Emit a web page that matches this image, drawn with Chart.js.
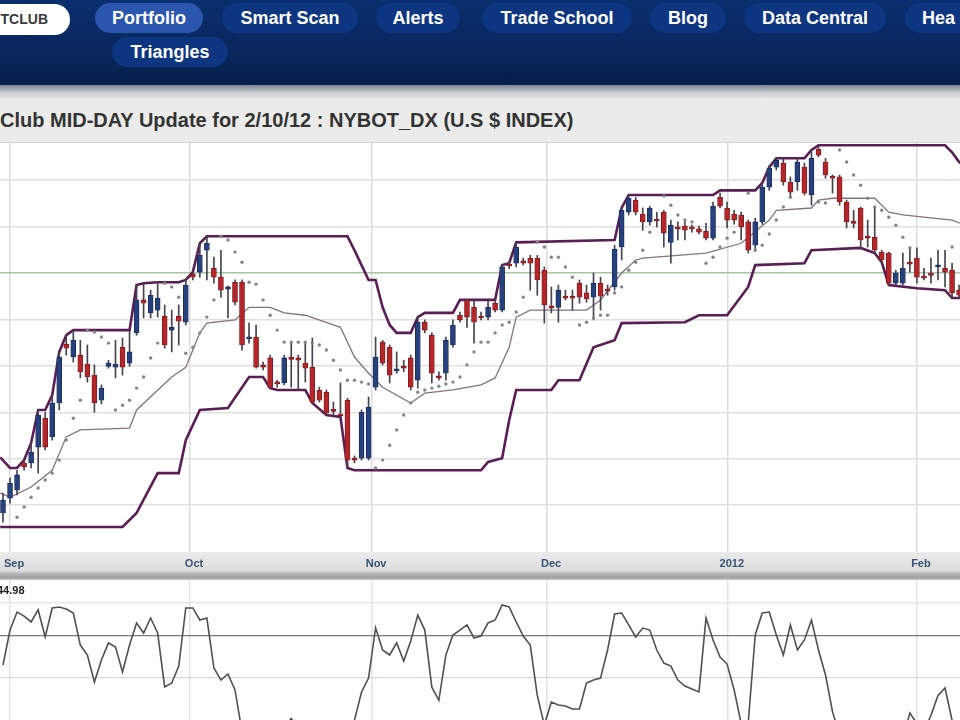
<!DOCTYPE html>
<html>
<head>
<meta charset="utf-8">
<title>NYBOT_DX MID-DAY Update</title>
<script src="https://cdn.jsdelivr.net/npm/chart.js@4.4.0/dist/chart.umd.min.js"></script>
<style>
html, body { margin:0; padding:0; width:960px; height:720px; overflow:hidden; background:#fff; font-family:"Liberation Sans", Arial, sans-serif; }
#nav { position:absolute; left:0; top:0; width:960px; height:85px; background:linear-gradient(#0b2e6e, #072659 70%, #041d4c); }
.pill { position:absolute; top:3px; height:30px; line-height:30px; border-radius:15px; background:#0e3680; color:#fff; font-weight:bold; font-size:18px; text-align:center; white-space:nowrap; overflow:hidden; }
.pill.on { background:#2b56ad; }
#logo { position:absolute; left:-30px; top:4px; width:100px; height:31px; border-radius:16px; background:#fff; color:#3a3a3a; font-weight:bold; font-size:14px; line-height:31px; text-align:right; padding-right:22px; box-sizing:border-box; }
#shade { position:absolute; left:0; top:85px; width:960px; height:13px; background:linear-gradient(#7d8596, #c9cbcf 60%, #e3e3e3); }
#title { position:absolute; left:0; top:98px; width:960px; height:44px; line-height:44px; background:#ebebeb; border-bottom:1px solid #d2d2d2; color:#333; font-weight:bold; font-size:20px; white-space:nowrap; }
#band { position:absolute; left:0; top:552px; width:960px; height:28px; background:linear-gradient(#ebebeb, #dcdcdc 68%, #b9b9b9 76%, #9f9f9f 92%, #cfcfcf); }
#main { position:absolute; left:0; top:143px; }
#osc { position:absolute; left:0; top:580px; }
#val { position:absolute; left:-3px; top:584px; font-weight:bold; font-size:11px; color:#222; }
</style>
</head>
<body>
<div id="nav">
  <div id="logo">TCLUB</div>
  <div class="pill on" style="left:95px;width:108px;">Portfolio</div>
  <div class="pill" style="left:222px;width:136px;">Smart Scan</div>
  <div class="pill" style="left:376px;width:84px;">Alerts</div>
  <div class="pill" style="left:482px;width:150px;">Trade School</div>
  <div class="pill" style="left:650px;width:76px;">Blog</div>
  <div class="pill" style="left:744px;width:142px;">Data Central</div>
  <div class="pill" style="left:905px;width:80px;text-align:left;padding-left:17px;box-sizing:border-box;">Hea</div>
  <div class="pill" style="left:112px;top:37px;width:116px;">Triangles</div>
</div>
<div id="shade"></div>
<div id="title">Club MID-DAY Update for 2/10/12 : NYBOT_DX (U.S $ INDEX)</div>
<div id="band"></div>
<canvas id="main" width="960" height="437"></canvas>
<canvas id="osc" width="960" height="180"></canvas>
<div id="val">44.98</div>
<script>
// month ticks (bar index) and labels
const monthTicks = [1.0, 26.6, 52.5, 77.4, 103.1, 130.0];
const monthLabels = ['Sep', 'Oct', 'Nov', 'Dec', '2012', 'Feb'];
const priceGrid = [74, 75, 76, 77, 78, 79, 80, 81];
const oscGrid = [55, 80, 100];

// daily candles, one per bar
const opens = [73.83,74.15,74.32,74.91,74.91,75.25,75.87,75.47,76.20,77.47,
77.19,77.23,77.04,76.80,76.26,76.99,76.97,77.40,77.06,77.71,
78.42,78.14,78.20,78.07,77.77,78.07,77.94,78.98,79.02,79.49,
79.10,78.91,78.65,78.80,78.80,77.58,77.62,77.02,77.17,76.65,
76.63,77.19,77.17,77.06,76.97,76.48,76.43,76.07,75.96,76.26,
75.01,75.01,75.01,76.54,77.51,77.40,76.89,76.99,77.17,76.69,
77.94,77.66,76.78,76.84,77.45,78.09,78.42,78.26,78.07,78.05,
78.35,78.20,79.19,79.21,79.26,79.32,79.32,79.06,78.29,78.26,
78.50,78.50,78.78,78.57,78.48,78.78,78.65,78.70,79.56,80.31,
80.57,80.27,80.10,80.16,80.31,79.66,79.99,80.01,79.99,79.95,
79.90,79.75,80.63,80.40,80.27,80.25,80.10,79.60,80.10,80.85,
81.28,81.37,80.96,80.96,81.28,80.68,81.67,81.39,81.09,81.07,
80.53,80.12,80.40,79.79,79.77,79.45,79.43,78.78,78.78,79.23,
79.32,78.93,79.00,79.13,79.10,79.06,78.63];
const highs = [74.26,74.58,74.75,74.97,75.34,76.05,76.00,76.37,77.30,77.66,
77.77,77.55,77.45,77.02,76.59,77.12,77.55,77.60,77.77,78.74,
78.78,78.63,78.80,78.31,78.20,78.31,78.85,79.02,79.64,79.79,
79.34,79.49,78.72,78.85,78.85,77.92,77.88,77.08,77.23,76.69,
77.23,77.51,77.23,77.49,77.60,76.54,76.48,76.22,76.63,76.30,
75.06,76.05,76.33,77.62,77.55,77.45,77.30,77.12,77.23,78.05,
77.99,77.71,76.87,77.62,77.99,78.16,78.42,78.42,78.16,78.42,
78.42,79.17,79.23,79.66,79.32,79.38,79.38,79.13,78.70,78.74,
78.63,78.63,78.85,78.74,79.00,78.91,78.74,79.60,80.42,80.68,
80.63,80.40,80.44,80.31,80.35,80.14,80.10,80.10,80.03,80.01,
80.07,80.53,80.72,80.53,80.35,80.31,80.14,80.18,80.94,81.32,
81.47,81.47,81.07,81.47,81.37,81.65,81.73,81.47,81.11,81.11,
80.57,80.35,80.42,80.14,80.42,79.49,79.45,79.06,79.43,79.56,
79.54,79.10,79.32,79.49,79.49,79.21,78.74];
const lows = [73.63,74.04,74.22,74.75,74.80,74.69,75.19,75.40,76.05,77.23,
77.08,76.74,76.65,76.00,76.18,76.95,76.74,76.80,76.99,77.66,
78.03,78.03,78.05,77.38,77.30,77.45,77.88,78.85,78.91,78.85,
78.78,78.48,78.03,78.31,77.34,77.49,76.95,76.91,76.52,76.54,
76.59,76.54,76.48,76.65,76.20,76.22,75.94,75.94,75.90,74.80,
74.91,74.97,74.97,76.48,77.02,76.63,76.84,76.87,76.48,76.52,
77.71,76.63,76.69,76.69,77.40,77.94,77.83,77.49,77.99,77.99,
78.16,78.16,79.10,79.13,79.17,78.63,78.52,77.92,78.14,77.94,
78.42,78.20,78.35,78.37,77.99,78.20,78.52,78.63,79.28,80.25,
80.25,79.92,80.03,79.99,79.56,79.21,79.71,79.71,79.88,79.84,
79.71,79.71,80.40,79.97,80.05,79.71,79.43,79.49,80.05,80.78,
81.22,80.89,80.63,80.78,80.68,80.46,81.50,81.04,80.72,80.46,
79.97,79.97,79.54,79.56,79.43,79.23,78.74,78.74,78.74,79.02,
78.78,78.85,78.78,78.85,78.70,78.46,78.46];
const closes = [74.11,74.47,74.65,74.82,75.14,75.94,75.25,76.20,77.19,77.38,
77.55,76.87,76.76,76.20,76.52,77.06,77.04,76.97,77.30,78.42,
78.35,78.52,78.46,77.45,77.83,77.96,78.74,78.91,79.38,79.64,
78.91,78.63,78.70,78.37,77.45,77.62,76.97,76.97,76.54,76.61,
77.17,77.14,77.12,76.95,76.22,76.26,75.98,76.02,75.92,74.97,
74.97,76.00,76.11,77.19,77.06,76.80,76.93,76.95,76.54,77.94,
77.77,76.84,76.74,77.55,77.88,77.99,78.05,77.94,78.03,78.26,
78.20,79.13,79.15,79.56,79.21,79.21,78.85,78.31,78.24,78.63,
78.46,78.46,78.48,78.44,78.78,78.50,78.61,79.51,80.35,80.61,
80.31,80.10,80.40,80.12,79.86,80.03,79.95,79.92,79.95,79.88,
79.75,80.44,80.44,80.14,80.14,79.99,79.49,80.10,80.85,81.26,
81.43,80.96,80.74,81.39,80.72,81.47,81.54,81.11,81.04,80.53,
80.10,80.07,79.71,79.75,79.49,79.28,78.78,79.00,79.10,79.19,
78.91,78.89,78.95,79.17,79.02,78.57,78.52];

// parabolic SAR dots (null = no dot visible)
const sar = [null,null,73.74,73.96,74.17,74.37,74.54,74.69,74.97,75.40,
75.87,76.26,77.77,77.73,77.62,77.49,76.05,76.15,76.26,76.52,
76.76,77.17,77.49,78.78,78.70,78.48,77.27,77.40,77.71,78.05,
78.42,79.79,79.71,79.45,79.23,78.80,78.76,78.42,78.09,77.77,
77.51,77.51,77.51,77.51,77.49,77.45,77.34,77.12,76.91,76.69,
76.69,76.65,76.61,74.80,74.97,75.29,75.62,75.94,76.20,76.43,
76.48,76.52,76.56,76.61,76.65,76.76,77.02,77.30,77.51,77.51,
77.71,77.88,77.94,78.16,78.48,null,79.66,79.56,79.34,79.34,
79.13,78.91,77.88,77.94,78.03,78.09,78.09,78.57,78.70,79.06,
79.23,79.49,79.88,null,80.66,80.46,80.25,80.14,80.10,null,
79.21,79.34,79.56,79.75,79.88,null,80.72,79.49,79.60,79.84,
80.14,80.42,80.63,null,null,null,80.53,80.51,null,81.65,
81.39,81.11,80.89,80.61,80.42,80.35,80.20,80.03,79.77,79.54,
null,null,null,null,null,79.56,null];

// channel lines, read at their corners (bar index, price)
const upperIdx = [-0.4,1,2,3,4,5,6,7,8,9,10,18,19,20,22,25,26,27,28,29,49,50,51,52,53,54,55,56,58,59,60,64,65,70,71,72,73,87,88,89,101,102,107,108,109,110,114,115,116,134,135,136,136.2];
const upperVal = [75.03,74.80,74.80,74.97,75.34,76.05,76.05,76.37,77.30,77.66,77.77,77.77,78.74,78.78,78.80,78.80,78.85,79.02,79.64,79.79,79.79,79.49,79.17,78.85,78.85,78.26,77.88,77.71,77.71,78.05,78.14,78.14,78.42,78.42,79.17,79.21,79.66,79.71,80.40,80.68,80.68,80.78,80.78,80.94,81.28,81.47,81.47,81.65,81.75,81.75,81.60,81.39,81.37];
const lowerIdx = [-0.4,17,19,22,25,26,28,32,35,37,38,39,43,44,46,48,49,50,68,69,71,72,73,78,79,82,84,87,88,97,99,103,106,107,114,115,122,124,125,126,130,134,135,136.2];
const lowerVal = [73.53,73.53,73.83,74.69,74.69,75.40,76.05,76.09,76.76,76.76,76.52,76.48,76.48,76.20,75.94,75.90,74.80,74.75,74.75,74.93,75.01,75.83,76.48,76.48,76.69,76.69,77.40,77.55,77.92,77.94,78.09,78.09,78.70,79.17,79.21,79.49,79.54,79.43,79.23,78.74,78.67,78.63,78.46,78.46];
const midIdx = [-0.4,1,4,7,9,11,18,19,24,26,28,29,33,35,38,40,43,48,50,52,54,58,60,64,68,70,72,73,75,83,85,88,90,91,100,105,109,110,115,116,118,124,126,128,135,136.2];
const midVal = [74.26,74.17,74.39,74.75,75.47,75.62,75.66,76.05,76.76,76.97,77.71,77.92,77.99,78.26,78.26,78.14,78.09,77.83,77.19,76.84,76.54,76.20,76.41,76.48,76.59,76.74,77.40,78.05,78.20,78.20,78.42,79.00,79.28,79.32,79.43,79.64,80.14,80.35,80.40,80.57,80.61,80.61,80.31,80.25,80.14,80.07];

// lower oscillator, one value per bar
const osc = [62.4,83.6,94.5,92.1,88.5,95.8,79.4,97.0,97.6,96.4,
93.9,74.5,68.5,52.1,65.5,75.8,73.3,58.2,74.5,87.9,
81.8,90.9,81.8,49.1,51.5,61.8,97.0,97.0,89.7,90.9,
60.6,53.3,57.0,47.3,22,15,10,8,12,18,
25,30,24,16,10,8,6,10,14,8,
29,46.1,54.5,85,71.5,68.5,75.8,64.8,77,92.7,
83.6,49,41,68.5,80.6,83.6,86.7,78.8,80,87.9,
89.7,98.8,97.6,88.5,80,74.5,44,26,40,38.2,
37.6,35.8,35.8,51.5,53.3,54.5,71.5,93.3,93.9,86.7,
79.4,84.8,83.6,71.5,63.6,61.8,53.3,49.7,47.9,46.1,
90.9,77.6,67.3,63.0,47.3,27,27,80.6,93.9,94.5,
80.6,68.5,86.7,71.5,77.6,89.7,71.5,56.4,34,20,
12,8,6,9,14,10,7,12,18,33.3,
27,22,32,44,48.5,29,22];

const xMin = -0.427, xMax = 136.13;
const yMin = 72.99, yMax = 81.80;
const oscMin = 4.85, oscMax = 113.94;

const bars = opens.map((v, i) => i);
const up = bars.map(i => closes[i] >= opens[i]);
const bodyData = bars.map(i => ({ x: i, y: [opens[i], closes[i]] }));
const wickData = bars.map(i => ({ x: i, y: [lows[i], highs[i]] }));
const sarData = bars.filter(i => sar[i] !== null).map(i => ({ x: i, y: sar[i] }));
const pts = (xs, ys) => xs.map((x, k) => ({ x: x, y: ys[k] }));

const monthAxis = {
  type: 'linear', min: xMin, max: xMax, offset: false,
  border: { display: false },
  afterBuildTicks: s => { s.ticks = monthTicks.map(v => ({ value: v })); }
};

new Chart(document.getElementById('main'), {
  type: 'bar',
  data: {
    datasets: [
      { type: 'line', label: 'SAR', data: sarData, showLine: false, pointRadius: 1.7,
        pointBackgroundColor: '#858585', pointBorderWidth: 0, order: 0 },
      { label: 'body', data: bodyData, grouped: false, barThickness: 5, minBarLength: 2,
        backgroundColor: up.map(u => u ? '#27417d' : '#b3272b'),
        borderColor: up.map(u => u ? '#172a57' : '#7d1518'),
        borderWidth: 0.8, borderSkipped: false, order: 1 },
      { label: 'wick', data: wickData, grouped: false, barThickness: 1,
        backgroundColor: '#44444f', order: 2 },
      { type: 'line', label: 'mid', data: pts(midIdx, midVal), borderColor: '#85737f',
        borderWidth: 1.3, pointRadius: 0, order: 3 },
      { type: 'line', label: 'upper', data: pts(upperIdx, upperVal), borderColor: '#5a1e54',
        borderWidth: 2.6, pointRadius: 0, order: 4 },
      { type: 'line', label: 'lower', data: pts(lowerIdx, lowerVal), borderColor: '#5a1e54',
        borderWidth: 2.6, pointRadius: 0, order: 4 }
    ]
  },
  options: {
    responsive: false, animation: false, events: [],
    layout: { padding: 0, autoPadding: false },
    plugins: { legend: { display: false }, tooltip: { enabled: false } },
    scales: {
      x: Object.assign({}, monthAxis, {
        grid: { color: '#dcdcdc', lineWidth: 1.5, drawTicks: false, offset: false },
        ticks: { autoSkip: false, maxRotation: 0, padding: 5, labelOffset: 4, color: '#3a5272',
          font: { family: 'Liberation Sans', size: 11, weight: 'bold' },
          callback: (v, k) => monthLabels[k] },
        afterFit: s => { s.height = 28; s.paddingLeft = 0; s.paddingRight = 0; }
      }),
      y: {
        min: yMin, max: yMax, border: { display: false }, ticks: { display: false },
        grid: { color: c => (c.tick && c.tick.value === 79) ? '#a6c4a6' : '#e0e0e0', lineWidth: 1.5, drawTicks: false },
        afterBuildTicks: s => { s.ticks = priceGrid.map(v => ({ value: v })); },
        afterFit: s => { s.width = 0; }
      }
    }
  }
});

new Chart(document.getElementById('osc'), {
  type: 'line',
  data: { datasets: [
    { label: 'osc', data: pts(bars, osc), borderColor: '#505050', borderWidth: 1.6, pointRadius: 0, tension: 0 }
  ] },
  options: {
    responsive: false, animation: false, events: [],
    layout: { padding: 0, autoPadding: false },
    plugins: { legend: { display: false }, tooltip: { enabled: false } },
    scales: {
      x: Object.assign({}, monthAxis, {
        grid: { color: '#e3e3e3', lineWidth: 1.5, drawTicks: false, offset: false },
        ticks: { display: false },
        afterFit: s => { s.height = 0; s.paddingLeft = 0; s.paddingRight = 0; }
      }),
      y: {
        min: oscMin, max: oscMax, border: { display: false }, ticks: { display: false },
        grid: { color: c => { const v = c.tick && c.tick.value; return v === 80 ? '#7a7a7a' : (v === 55 ? '#cfe0cf' : '#e3e3e3'); },
          lineWidth: 1.3, drawTicks: false },
        afterBuildTicks: s => { s.ticks = oscGrid.map(v => ({ value: v })); },
        afterFit: s => { s.width = 0; }
      }
    }
  }
});
</script>
</body>
</html>
